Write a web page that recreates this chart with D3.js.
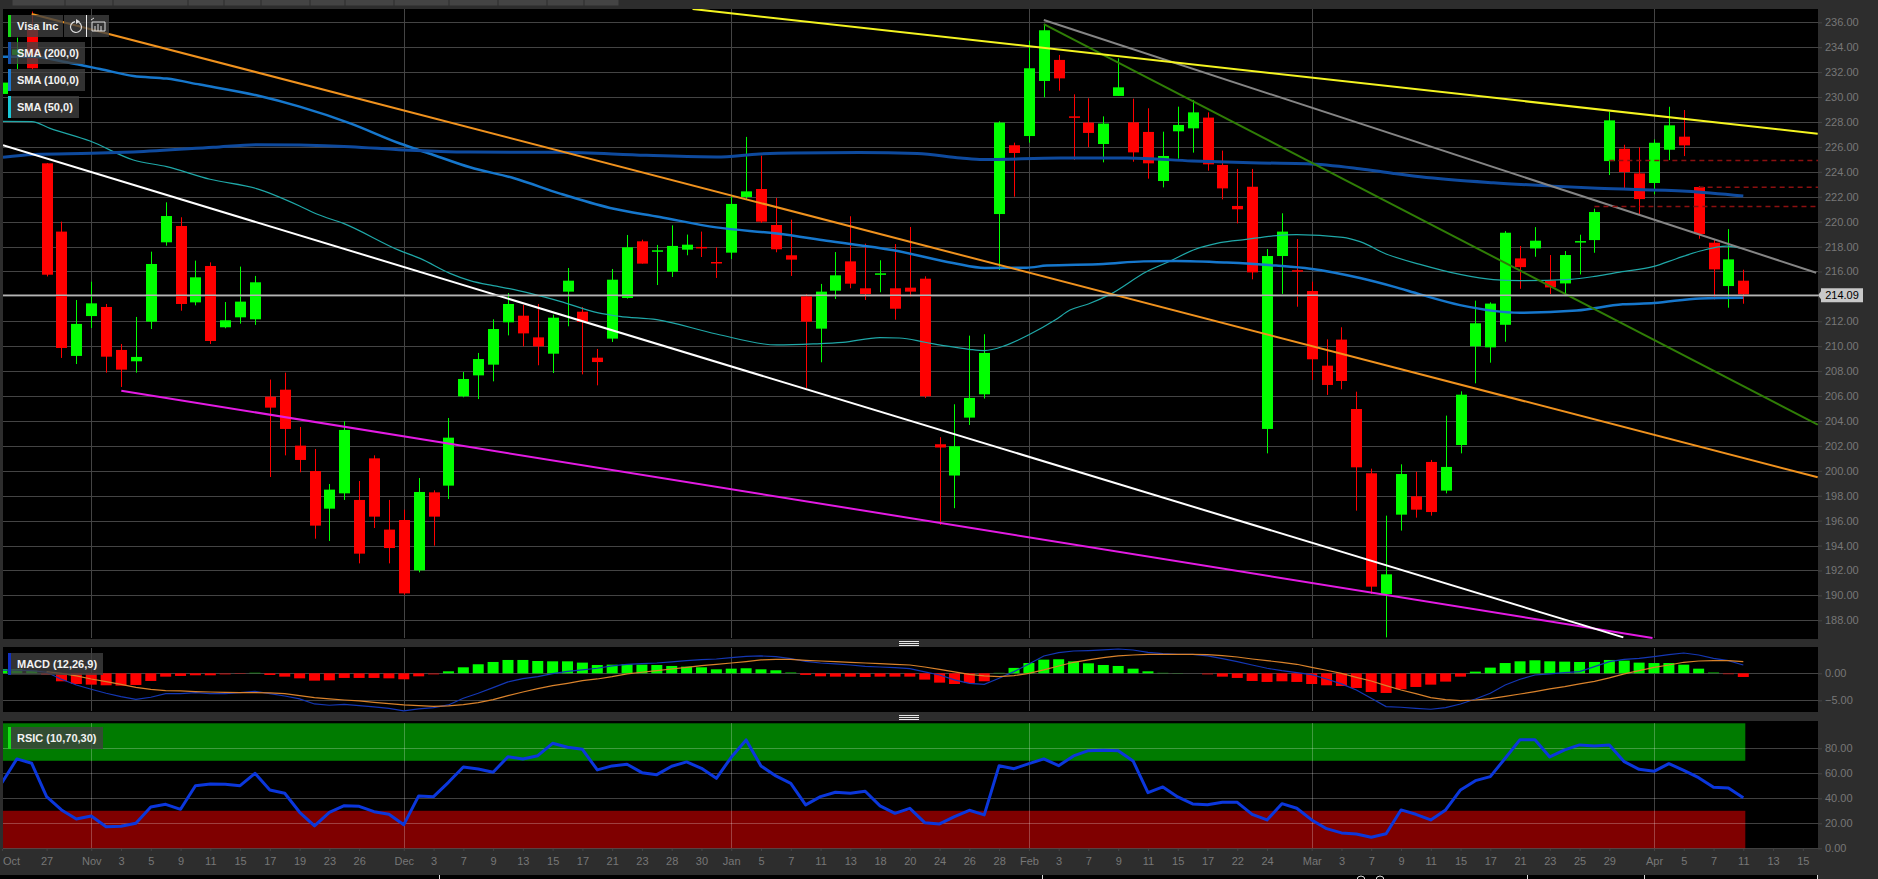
<!DOCTYPE html>
<html>
<head>
<meta charset="utf-8">
<title>Visa Inc</title>
<script src="https://cdnjs.cloudflare.com/ajax/libs/d3/7.8.5/d3.min.js"></script>
<style>
html, body { margin: 0; background: #000; overflow: hidden; }
svg { display: block; }
text { font-family: "Liberation Sans", Arial, sans-serif; }
</style>
</head>
<body>
<svg width="1878" height="879"></svg>
<script>
// first entry of the per-bar arrays is bar -3 (cut off by the left edge)
const firstBar = -3;

const opens = [230.25,233.38,235.44,224.68,219.2,209.22,212.42,213.15,209.7,208.79,211.97,218.34,219.65,213.52,216.44,211.52,212.32,212.16,205.95,206.51,202.02,199.98,196.96,198.19,197.66,201.0,195.28,196.05,192.01,198.27,198.81,205.98,207.66,208.52,211.92,212.45,210.71,209.4,214.38,212.77,209.08,210.61,213.87,218.42,217.6,215.98,217.75,217.97,216.76,217.51,221.98,222.62,219.73,217.3,214.0,211.41,214.46,216.81,214.65,215.74,214.65,214.7,215.42,202.13,199.62,204.27,206.14,220.61,226.13,226.87,231.29,232.98,228.45,227.95,226.23,230.09,227.97,227.2,223.26,227.25,227.49,228.35,224.55,221.26,222.8,203.36,217.24,216.1,214.43,208.44,210.53,204.96,199.8,190.11,196.48,197.95,200.71,198.41,202.07,209.99,209.91,211.72,217.05,217.85,215.28,215.04,218.36,218.52,224.86,225.85,223.87,223.1,225.77,226.82,222.78,218.31,214.83,215.26];
const highs = [231.3,234.77,236.86,224.7,220.0,213.71,215.18,213.39,210.18,212.35,217.59,221.55,220.35,216.87,216.73,213.55,216.39,215.64,207.32,207.88,203.52,201.75,198.94,203.97,199.18,201.24,197.66,196.88,199.42,198.43,204.24,207.93,209.46,212.16,214.27,213.31,213.39,212.53,216.28,213.15,209.78,216.2,218.93,218.55,218.13,219.7,218.96,219.2,217.94,222.03,226.8,225.3,221.9,220.16,214.17,215.0,217.56,220.43,218.23,216.9,218.2,219.57,215.61,202.7,205.34,210.85,210.96,228.05,226.34,234.53,235.87,233.38,230.22,229.9,228.45,233.11,229.87,229.1,227.22,229.23,229.77,228.77,225.7,224.23,224.23,217.8,220.67,218.6,215.18,210.55,211.52,206.35,200.17,196.4,200.52,199.93,200.87,204.43,206.38,213.66,213.52,219.24,218.04,219.56,217.32,217.64,218.95,221.04,228.82,226.17,225.96,226.6,229.22,228.96,222.86,218.52,219.4,216.14];
const lows = [230.1,232.25,232.2,215.6,209.06,208.57,211.46,207.88,206.73,207.88,211.38,218.07,212.85,213.28,210.18,211.44,211.81,211.71,199.5,201.24,199.88,194.55,194.37,197.66,192.57,195.41,192.57,190.06,191.85,193.99,197.74,205.9,205.76,207.18,210.87,209.99,208.47,207.85,211.6,207.74,206.86,210.34,213.82,216.63,214.91,215.56,217.3,217.16,215.48,217.0,221.76,219.89,217.54,215.64,206.65,208.71,213.79,214.65,213.71,214.33,212.13,213.98,205.84,195.66,197.0,203.68,205.8,216.12,222.0,226.34,229.98,230.51,224.95,225.97,224.76,230.09,224.81,223.45,222.75,225.06,225.54,224.09,221.79,219.86,215.37,201.4,214.2,213.17,207.29,206.09,206.54,196.8,190.11,186.63,195.2,196.24,196.4,198.19,201.4,207.02,208.68,210.36,214.61,217.18,214.19,214.02,215.76,217.5,223.74,222.67,220.5,222.19,224.94,225.26,218.63,213.76,213.09,213.41];
const closes = [231.16,233.83,232.31,215.74,209.86,211.79,213.44,209.16,208.12,209.14,216.6,220.45,213.39,215.53,210.42,212.08,213.58,215.13,205.07,203.36,200.87,195.6,198.49,203.28,193.35,196.32,193.8,190.16,198.3,196.32,202.66,207.37,208.97,211.38,213.39,211.03,209.99,212.29,215.26,211.94,208.73,215.34,217.94,216.63,217.7,218.05,218.15,217.91,216.71,221.42,222.43,220.0,217.78,216.95,211.97,214.38,215.69,215.02,214.19,215.85,213.01,214.38,205.98,201.87,201.97,205.85,209.46,227.95,225.51,232.31,235.36,231.5,228.35,227.12,227.87,230.78,225.56,224.68,225.27,227.76,228.77,224.6,222.67,220.99,215.93,217.24,219.2,216.0,208.95,206.89,207.21,200.28,190.7,191.69,199.74,196.88,196.69,200.31,206.11,211.84,213.42,219.11,216.35,218.47,214.72,217.32,218.44,220.77,228.13,223.98,221.81,226.33,227.73,226.12,219.0,216.17,216.97,214.16];

const lastPrice = 214.09;

// moving averages, read at the bends only
const sma200Bars = [-2.93,-0.89,3,5.83,11.2,14.1,17,20.4,24,28.45,34.5,40.3,45,47.9,50.2,54.6,58.5,61.4,62.9,68.1,72.6,77,81.5,84.7,88.2,90.5,92.3,97.2,101.2,104.2,110.2,114];
const sma200 = [225.16,225.38,225.48,225.59,225.97,226.18,226.15,226.02,225.75,225.58,225.56,225.32,225.19,225.43,225.51,225.54,225.46,225.11,224.98,225.11,225.11,224.87,224.71,224.65,224.25,223.87,223.6,223.12,222.85,222.67,222.43,222.05];
const sma100Bars = [-2.93,-0.89,1.35,3.59,5.83,8.07,10.3,14.1,17,20.4,23.7,26,28.45,31.36,34.5,37.86,41.2,45,49.06,52.4,56.9,60.9,63.05,65.85,67.2,71,73.7,75.9,79.3,82.6,84.9,88.25,90.5,92.28,94.97,99,102.8,105.9,108,111.1,114];
const sma100 = [233.24,233.24,232.79,232.25,231.69,231.48,231,230.14,229.23,227.89,226.29,225.35,224.36,223.5,222.25,221.1,220.37,219.54,219.04,218.47,217.7,216.68,216.28,216.3,216.47,216.6,216.81,216.84,216.71,216.47,216.22,215.47,214.78,214.16,213.3,212.69,212.87,213.36,213.46,213.84,213.89];
const sma50Bars = [-2.93,-1,0.23,2.92,5.83,8.07,10.98,14.1,17,18.15,19.94,23.74,25.09,27.1,28.45,30,31.1,34.5,37.07,38.5,41,45,49.06,51.5,53.5,56,57.3,59.02,60.4,62,63,64.4,65.97,67.76,68.76,69.99,71.45,73.9,75.5,77.05,78.84,80.6,82.4,84,87.1,88.25,90,92.28,94.97,97.2,99,102.36,104.15,105.7,108,109.5,111.1,112.9,114];
const sma50 = [228.05,228.03,227.49,226.47,224.95,224.41,223.4,222.65,221.26,220.61,219.86,217.67,217.05,215.85,215.26,214.86,214.62,213.6,212.67,212.4,212.13,210.98,210.1,210.18,210.31,210.69,210.66,210.32,210.02,209.75,209.65,210.05,210.9,212.1,212.9,213.39,214.16,215.98,216.84,217.72,218.31,218.58,218.85,218.95,218.74,218.39,217.4,216.57,215.76,215.34,215.26,215.36,215.63,215.95,216.41,217.02,217.64,218.04,217.82];

// hand drawn trend lines, [bar, price] at each end
const whiteTrend = [[-2.93,226.13],[105.94,186.63]];
const orangeTrend = [[-1,236.67],[119,199.48]];
const yellowTrend = [[43.4,237.07],[119,227.06]];
const greyTrend = [[67,236.18],[118.9,215.9]];
const greenTrend = [[67,235.86],[119,203.7]];
const magentaTrend = [[5.02,206.43],[107.9,186.58]];

const dashedStartBars = [105,111,104];
const dashedPrices = [224.9,222.75,221.22];

const macdHist = [.8,.8,.5,-.3,-1.48,-1.98,-2.1,-2.22,-2.28,-2.16,-1.42,-.62,-.49,-.37,-.37,-.25,-.12,.12,-.31,-.62,-.93,-1.36,-1.3,-.86,-.86,-.86,-.93,-1.11,-.56,-.25,.37,1.11,1.67,2.1,2.47,2.47,2.28,2.22,2.22,1.98,1.54,1.6,1.67,1.6,1.54,1.36,1.23,1.11,.74,.86,.93,.74,.56,.2,-.3,-.56,-.62,-.62,-.68,-.62,-.62,-.62,-1.17,-1.73,-1.98,-1.8,-1.48,.1,1.0,1.9,2.53,2.6,2.2,1.85,1.54,1.36,.86,.37,.1,.05,0,-.25,-.62,-.86,-1.42,-1.6,-1.48,-1.6,-1.98,-2.22,-2.35,-2.72,-3.46,-3.64,-2.96,-2.53,-2.1,-1.54,-.62,.31,1.05,1.9,2.22,2.41,2.22,2.16,2.1,2.1,2.47,2.35,1.98,1.9,1.9,1.6,.86,.19,-.19,-.68];
const macdLine = [.6,.6,.5,.19,-1.11,-2.16,-2.96,-3.7,-4.32,-4.81,-4.44,-3.76,-3.76,-3.58,-3.76,-3.76,-3.58,-3.33,-3.76,-4.2,-4.75,-5.68,-5.92,-5.74,-5.98,-6.23,-6.48,-6.97,-6.6,-6.36,-5.86,-4.63,-3.7,-2.65,-1.6,-.99,-.62,-.06,.37,.62,.93,1.36,1.67,1.79,1.91,2.1,2.34,2.53,2.65,2.9,3.15,3.21,3.09,2.71,2.22,1.91,1.73,1.54,1.3,1.17,1.05,.86,.25,-.31,-1.23,-1.85,-2.04,-.93,.31,1.73,3.21,3.83,4.13,4.2,4.32,4.5,4.32,3.89,3.64,3.52,3.52,3.21,2.71,2.16,1.54,.93,.49,.12,-.25,-1.05,-1.97,-3.09,-4.63,-6.17,-6.29,-6.48,-6.66,-6.36,-5.68,-4.75,-3.7,-2.16,-1.11,-.31,-.12,.12,.31,1.23,2.16,2.59,2.78,3.09,3.46,3.76,3.39,2.78,2.34,1.54];
const macdSignal = [.6,.6,.5,.31,0,-.49,-1.05,-1.54,-2.04,-2.59,-2.96,-3.21,-3.27,-3.39,-3.46,-3.52,-3.58,-3.58,-3.64,-3.76,-4.13,-4.5,-4.75,-4.94,-5.12,-5.37,-5.61,-5.86,-5.98,-6.11,-6.05,-5.8,-5.43,-4.87,-4.13,-3.46,-2.84,-2.28,-1.85,-1.36,-1.05,-.62,-.12,.19,.49,.8,1.11,1.42,1.67,1.91,2.16,2.47,2.59,2.59,2.41,2.28,2.16,2.04,1.91,1.79,1.67,1.54,1.17,.74,.25,-.19,-.49,-.62,-.43,0,.62,1.36,2.04,2.47,2.9,3.21,3.39,3.52,3.52,3.52,3.52,3.46,3.27,3.02,2.65,2.34,2.04,1.67,1.11,.56,0,-.74,-1.42,-2.28,-3.09,-3.76,-4.5,-4.87,-5.06,-4.94,-4.69,-4.26,-3.83,-3.39,-2.9,-2.47,-1.97,-1.48,-.86,-.12,.49,1.11,1.54,2.04,2.28,2.34,2.34,2.16];

const rsi = [52.5,71.5,68,41.3,30.7,23.5,25.9,17.3,17.6,20,33.1,35.2,31.2,50.1,51.5,51.2,50.1,60,46.7,44,28.8,17.9,28.8,34.1,33.6,29.3,27.2,18.9,41.9,41.3,52.8,65.1,63.5,60.8,73.3,71.5,74.1,84,80.8,79.2,62.7,65.9,67.2,60.5,58.9,65.6,69.1,64,56,72.8,86.7,65.9,57.9,52,34.7,41.3,44.8,44,45.6,33.9,28,32,20.5,19.5,25.3,30.4,26.7,66.1,63.7,67.7,71.5,66.1,73.9,78.1,78.4,78.1,69.9,44.5,49.1,41.1,35.5,34.9,36.8,36.8,27.2,22.7,35.7,32,22.7,15.7,12.3,11.5,8.8,11.7,30.7,27.2,22.7,30.7,46.7,54.1,57.3,72,86.9,86.9,73.1,78.7,82.7,81.9,82.7,69.3,63.2,61.6,67.7,62.4,56.5,48.8,48.3,40.5];

const monthBars = [3,24,46,66,85,108];
const xTickBars = [-3,0,3,5,7,9,11,13,15,17,19,21,24,26,28,30,32,34,36,38,40,42,44,46,48,50,52,54,56,58,60,62,64,66,68,70,72,74,76,78,80,82,85,87,89,91,93,95,97,99,101,103,105,108,110,112,114,116,118];
const xTickLabels = ["Oct","27","Nov","3","5","9","11","15","17","19","23","26","Dec","3","7","9","13","15","17","21","23","28","30","Jan","5","7","11","13","18","20","24","26","28","Feb","3","7","9","11","15","17","22","24","Mar","3","7","9","11","15","17","21","23","25","29","Apr","5","7","11","13","15"];

const priceTicks = d3.range(188, 238, 2);
const macdTicks = [0, -5];
const rsiTicks = [0, 20, 40, 60, 80];

const legendNames = ["Visa Inc", "SMA (200,0)", "SMA (100,0)", "SMA (50,0)"];
const tabEdges = [12,65,113,188,224,261,310,345,394,449,498,547,584,619];

// layout
const left = 3, right = 1818;
const mainTop = 9, mainBottom = 639;
const macdTop = 647, macdBottom = 712;
const rsiTop = 721, rsiBottom = 849;
const axisBottom = 875;

const panelBg = "#2d2d2d";
const gridColor = "#444";
const labelColor = "#777";
const up = "#00ff00", down = "#ff0000";

const x = d3.scaleLinear().domain([0, 114]).range([46.6, 1743.3]);
const yPrice = d3.scaleLinear().domain([236, 188]).range([22.3, 620.3]);
const yMacd = d3.scaleLinear().domain([0, -5]).range([673.3, 700.3]);
const yRsi = d3.scaleLinear().domain([0, 100]).range([848.3, 723.3]);

// thin lines land on whole pixels so they stay one pixel wide
const crisp = v => Math.round(v) + 0.5;

const svg = d3.select("svg");
const bars = opens.map((o, i) => ({
    bar: firstBar + i, open: o, high: highs[i], low: lows[i], close: closes[i],
    hist: macdHist[i], macd: macdLine[i], signal: macdSignal[i], rsi: rsi[i]
}));

// frame
svg.append("rect").attr("width", 1878).attr("height", axisBottom).attr("fill", panelBg);
svg.append("rect").attr("y", axisBottom).attr("width", 1878).attr("height", 4).attr("fill", "#000");
svg.append("rect").attr("x", right).attr("y", axisBottom).attr("width", 60).attr("height", 4).attr("fill", panelBg);

// strip of tabs on top
svg.append("g").selectAll("rect").data(d3.pairs(tabEdges)).enter().append("rect")
    .attr("x", d => d[0] + 0.5)
    .attr("width", d => d[1] - d[0] - 1)
    .attr("height", 5.5)
    .attr("fill", "#444");

// the odd bits of the window under the chart
svg.append("g").selectAll("line").data([439, 1042, 1527, 1644, 1817]).enter().append("line")
    .attr("x1", d => d + 0.5).attr("x2", d => d + 0.5).attr("y1", axisBottom).attr("y2", 879)
    .attr("stroke", "#ddd");
svg.append("g").selectAll("circle").data([1361, 1380]).enter().append("circle")
    .attr("cx", d => d).attr("cy", 880).attr("r", 4)
    .attr("fill", "none").attr("stroke", "#ddd");

var addPanel = function(id, top, bottom){
    svg.append("clipPath").attr("id", id).append("rect")
        .attr("x", left).attr("y", top).attr("width", right - left).attr("height", bottom - top);
    svg.append("rect").attr("x", left).attr("y", top)
        .attr("width", right - left).attr("height", bottom - top).attr("fill", "#000");
    return svg.append("g").attr("clip-path", "url(#" + id + ")");
};

var addGrid = function(panel, y, ticks, top, bottom, stroke){
    panel.selectAll(".h").data(ticks).enter().append("line").attr("class", "h")
        .attr("x1", left).attr("x2", right)
        .attr("y1", d => crisp(y(d))).attr("y2", d => crisp(y(d)))
        .attr("stroke", stroke);
    panel.selectAll(".v").data(monthBars).enter().append("line").attr("class", "v")
        .attr("x1", d => crisp(x(d))).attr("x2", d => crisp(x(d)))
        .attr("y1", top).attr("y2", bottom)
        .attr("stroke", stroke);
};

// price panel
const main = addPanel("clip-main", mainTop, mainBottom);
addGrid(main, yPrice, priceTicks, mainTop, mainBottom - 1, gridColor);

const candles = main.append("g").selectAll("g").data(bars).enter().append("g");
const isUp = d => d.close >= d.open;
candles.append("line")
    .attr("x1", d => crisp(x(d.bar))).attr("x2", d => crisp(x(d.bar)))
    .attr("y1", d => yPrice(d.high)).attr("y2", d => yPrice(d.low))
    .attr("stroke", d => isUp(d) ? up : down)
    .attr("stroke-width", 1);
candles.append("rect")
    .attr("x", d => Math.round(x(d.bar)) - 5)
    .attr("width", 11)
    .attr("y", d => yPrice(Math.max(d.open, d.close)))
    .attr("height", d => Math.max(1.5, Math.abs(yPrice(d.open) - yPrice(d.close))))
    .attr("fill", d => isUp(d) ? up : down);

var smaPath = d3.line().x(d => x(d[0])).y(d => yPrice(d[1])).curve(d3.curveMonotoneX);
var drawSma = function(barsAt, values, color, width){
    main.append("path")
        .attr("d", smaPath(barsAt.map((b, i) => [b, values[i]])))
        .attr("fill", "none").attr("stroke", color).attr("stroke-width", width);
};
drawSma(sma50Bars, sma50, "#1fa8a8", 1.2);
drawSma(sma100Bars, sma100, "#1677cc", 2.5);
drawSma(sma200Bars, sma200, "#0e4a9e", 3);

var trendPath = d3.line().x(d => x(d[0])).y(d => yPrice(d[1]));
[[greenTrend, "#2f7d06"], [greyTrend, "#858585"], [magentaTrend, "#e41be4"],
 [orangeTrend, "#f0921e"], [yellowTrend, "#f4f420"], [whiteTrend, "#fff"]].forEach(function(t){
    main.append("path").attr("d", trendPath(t[0]))
        .attr("fill", "none").attr("stroke", t[1]).attr("stroke-width", 2);
});

main.selectAll(".dash").data(dashedPrices).enter().append("line").attr("class", "dash")
    .attr("x1", (d, i) => x(dashedStartBars[i])).attr("x2", right)
    .attr("y1", d => yPrice(d)).attr("y2", d => yPrice(d))
    .attr("stroke", "#8c1010").attr("stroke-width", 1.5).attr("stroke-dasharray", "5,4");

main.append("line")
    .attr("x1", left).attr("x2", right)
    .attr("y1", yPrice(lastPrice)).attr("y2", yPrice(lastPrice))
    .attr("stroke", "#b4b4b4").attr("stroke-width", 1.5);

// macd panel
const macd = addPanel("clip-macd", macdTop, macdBottom);
addGrid(macd, yMacd, macdTicks, macdTop + 1, macdBottom - 1, gridColor);
macd.append("g").selectAll("rect").data(bars).enter().append("rect")
    .attr("x", d => x(d.bar) - 5.5)
    .attr("width", 11)
    .attr("y", d => d.hist > 0 ? yMacd(d.hist) : yMacd(0))
    .attr("height", d => Math.abs(yMacd(d.hist) - yMacd(0)))
    .attr("fill", d => d.hist > 0 ? up : down)
    .attr("opacity", d => Math.abs(d.hist) < 0.3 ? 0.55 : 1);
macd.append("path")
    .attr("d", d3.line().x(d => x(d.bar)).y(d => yMacd(d.macd))(bars))
    .attr("fill", "none").attr("stroke", "#1437b4").attr("stroke-width", 1.2);
macd.append("path")
    .attr("d", d3.line().x(d => x(d.bar)).y(d => yMacd(d.signal))(bars.slice(3)))
    .attr("fill", "none").attr("stroke", "#d9822b").attr("stroke-width", 1.2);

// rsi panel
const rsiPanel = addPanel("clip-rsi", rsiTop, rsiBottom);
rsiPanel.append("rect").attr("x", left).attr("width", x(114) + 2 - left)
    .attr("y", yRsi(100)).attr("height", yRsi(70) - yRsi(100)).attr("fill", "#007b00");
rsiPanel.append("rect").attr("x", left).attr("width", x(114) + 2 - left)
    .attr("y", yRsi(30)).attr("height", yRsi(0) - yRsi(30)).attr("fill", "#7f0000");
addGrid(rsiPanel, yRsi, rsiTicks, rsiTop + 2, rsiBottom - 1, "rgba(255,255,255,0.25)");
rsiPanel.append("path")
    .attr("d", d3.line().x(d => x(d.bar)).y(d => yRsi(d.rsi))(bars))
    .attr("fill", "none").attr("stroke", "#0b37dc").attr("stroke-width", 3).attr("stroke-linejoin", "round");

// axes
var styleAxis = function(g){
    g.select(".domain").remove();
    g.selectAll("line").attr("stroke", gridColor);
    g.selectAll("text").attr("fill", labelColor).style("font-size", "11px").style("font-family", '"Liberation Sans", Arial, sans-serif');
};
svg.append("g").attr("transform", "translate(" + right + ",0)")
    .call(d3.axisRight(yPrice).tickValues(priceTicks).tickFormat(d3.format(".2f")).tickSize(4).tickPadding(3))
    .call(styleAxis);
svg.append("g").attr("transform", "translate(" + right + ",0)")
    .call(d3.axisRight(yMacd).tickValues(macdTicks).tickFormat(d3.format(".2f")).tickSize(4).tickPadding(3))
    .call(styleAxis);
svg.append("g").attr("transform", "translate(" + right + ",0)")
    .call(d3.axisRight(yRsi).tickValues(rsiTicks).tickFormat(d3.format(".2f")).tickSize(4).tickPadding(3))
    .call(styleAxis);

const xAxis = svg.append("g").attr("transform", "translate(0," + rsiBottom + ")")
    .call(d3.axisBottom(x).tickValues(xTickBars).tickFormat((d, i) => xTickLabels[i]).tickSize(2).tickPadding(6))
    .call(styleAxis);
// Oct sits on the left edge, so its text is pushed back in
xAxis.selectAll("text").filter(d => d === -3).attr("dx", 9);

// last price flag
const flagY = yPrice(lastPrice);
svg.append("path")
    .attr("d", d3.line()([[right, flagY], [right + 3, flagY - 4], [right + 3, flagY + 4]]))
    .attr("fill", "#c8c8c8");
svg.append("rect").attr("x", right + 3).attr("y", flagY - 7).attr("width", 42).attr("height", 14).attr("fill", "#c8c8c8");
svg.append("text").attr("x", right + 24).attr("y", flagY + 4).attr("text-anchor", "middle")
    .attr("fill", "#000").style("font-size", "11px").text(d3.format(".2f")(lastPrice));

// handles on the panel splitters
[641, 715].forEach(function(y0){
    d3.range(3).forEach(function(k){
        svg.append("line").attr("x1", 899).attr("x2", 919)
            .attr("y1", y0 + k * 2 + 0.5).attr("y2", y0 + k * 2 + 0.5)
            .attr("stroke", "#e6e6e6");
    });
});

// legends
var addLegend = function(name, y0, w, color){
    svg.append("rect").attr("x", 8).attr("y", y0).attr("width", w).attr("height", 22)
        .attr("fill", "#404040").attr("opacity", 0.78);
    svg.append("rect").attr("x", 8).attr("y", y0).attr("width", 3).attr("height", 22).attr("fill", color);
    svg.append("text").attr("x", 17).attr("y", y0 + 15).attr("fill", "#f2f2f2")
        .style("font-size", "11px").style("font-weight", "bold").text(name);
};
addLegend(legendNames[0], 15, 55, "#18d818");
addLegend(legendNames[1], 42, 77, "#1450a8");
addLegend(legendNames[2], 69, 77, "#1a78d0");
addLegend(legendNames[3], 96, 71, "#19c8d8");
addLegend("MACD (12,26,9)", 653, 95, "#1030c0");
addLegend("RSIC (10,70,30)", 727, 95, "#18e018");

// refresh and bars icons next to the name
svg.append("rect").attr("x", 64).attr("y", 15).attr("width", 45).attr("height", 22)
    .attr("fill", "#404040").attr("opacity", 0.78);
svg.append("path")
    .attr("d", d3.arc()({innerRadius: 5.5, outerRadius: 5.5, startAngle: 0.5, endAngle: 6.1}))
    .attr("transform", "translate(76,27)")
    .attr("fill", "none").attr("stroke", "#ddd").attr("stroke-width", 1.2);
svg.append("path").attr("d", "M76 19l4 2.5l-4 2.5z").attr("fill", "#ddd");
svg.append("line").attr("x1", 86.5).attr("x2", 86.5).attr("y1", 15).attr("y2", 37).attr("stroke", "#eee");
svg.append("path").attr("d", "M92 22H105V31H92V22M95 31V26M98 31V24M101 31V26M91 20l3-2")
    .attr("fill", "none").attr("stroke", "#ddd");
</script>
</body>
</html>
